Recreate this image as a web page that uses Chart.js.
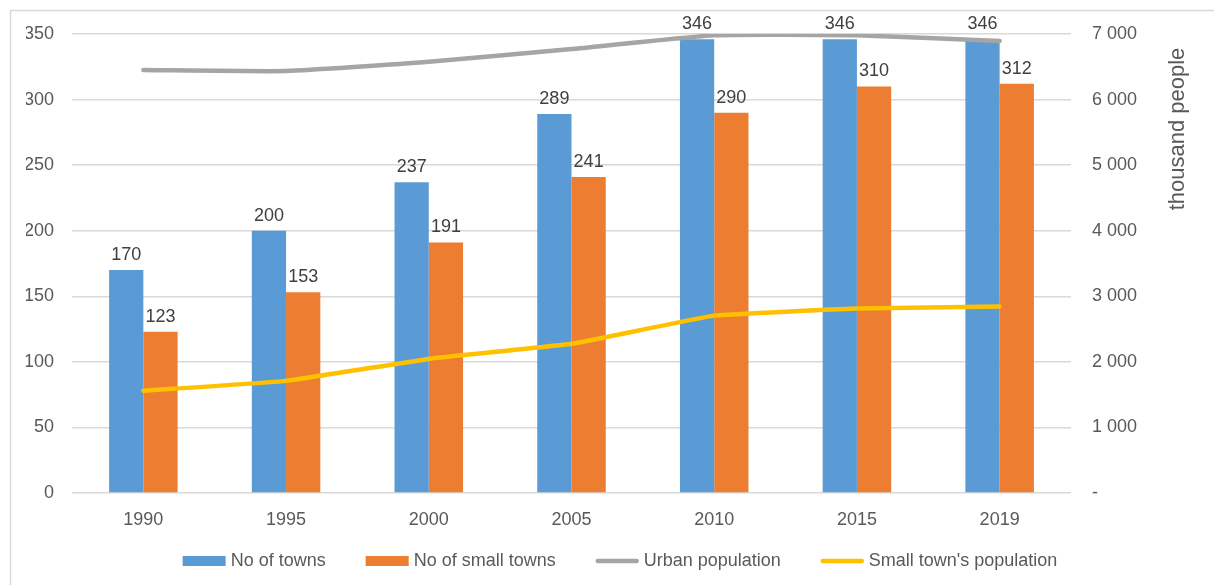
<!DOCTYPE html>
<html>
<head>
<meta charset="utf-8">
<script src="https://cdn.jsdelivr.net/npm/chart.js@4.4.0/dist/chart.umd.min.js"></script>
<style>
  html, body { margin: 0; padding: 0; background: #fff; }
  #wrap { width: 1214px; height: 585px; position: relative; }
</style>
</head>
<body>
<div id="wrap"><canvas id="myChart"></canvas></div>
<script>
const years = ["1990", "1995", "2000", "2005", "2010", "2015", "2019"];
const towns = [170, 200, 237, 289, 346, 346, 346];
const smallTowns = [123, 153, 191, 241, 290, 310, 312];
const urbanPopulation = [6450, 6435, 6575, 6770, 6980, 6980, 6895];
const smallTownPopulation = [1560, 1710, 2045, 2275, 2705, 2812, 2843];

const tickColour = "#595959";
const fontFamily = "'Liberation Sans', 'DejaVu Sans', sans-serif";

// frame, value labels over bars, right axis title, legend
const extras = {
    id: "extras",
    beforeDraw(chart) {
        const ctx = chart.ctx;
        ctx.save();
        ctx.strokeStyle = "#d9d9d9";
        ctx.lineWidth = 1.5;
        ctx.strokeRect(10.5, 10.5, 1300, 700);
        ctx.restore();
    },
    afterDatasetsDraw(chart) {
        const ctx = chart.ctx;
        ctx.save();
        ctx.font = "18px " + fontFamily;
        ctx.fillStyle = "#404040";
        ctx.textAlign = "center";
        ctx.textBaseline = "bottom";
        [0, 1].forEach(i => {
            const meta = chart.getDatasetMeta(i);
            meta.data.forEach((bar, j) => {
                ctx.fillText(chart.data.datasets[i].data[j], bar.x, bar.y - 6);
            });
        });
        ctx.restore();

        ctx.save();
        ctx.translate(1178, 129);
        ctx.rotate(-Math.PI / 2);
        ctx.font = "22px " + fontFamily;
        ctx.fillStyle = tickColour;
        ctx.textAlign = "center";
        ctx.textBaseline = "middle";
        ctx.fillText("thousand people", 0, 0);
        ctx.restore();
    },
    afterDraw(chart) {
        const ctx = chart.ctx;
        const sets = chart.data.datasets;
        const boxW = 43, gap = 5, spacing = 40, y = 561;
        ctx.save();
        ctx.font = "18px " + fontFamily;
        ctx.textBaseline = "middle";
        ctx.textAlign = "left";
        const widths = sets.map(ds => boxW + gap + ctx.measureText(ds.label).width);
        const total = widths.reduce((a, b) => a + b, 0) + spacing * (sets.length - 1);
        let x = 620 - total / 2;
        sets.forEach((ds, i) => {
            if (ds.type === "line") {
                ctx.strokeStyle = ds.borderColor;
                ctx.lineWidth = 4.5;
                ctx.lineCap = "round";
                ctx.beginPath();
                ctx.moveTo(x + 2, y);
                ctx.lineTo(x + boxW - 2, y);
                ctx.stroke();
            } else {
                ctx.fillStyle = ds.backgroundColor;
                ctx.fillRect(x, y - 5, boxW, 10);
            }
            ctx.fillStyle = tickColour;
            ctx.fillText(ds.label, x + boxW + gap, y);
            x += widths[i] + spacing;
        });
        ctx.restore();
    }
};

new Chart(document.getElementById("myChart"), {
    data: {
        labels: years,
        datasets: [
            {
                type: "bar",
                label: "No of towns",
                data: towns,
                backgroundColor: "#5B9BD5",
                yAxisID: "y",
                categoryPercentage: 0.48,
                barPercentage: 1,
                order: 2
            },
            {
                type: "bar",
                label: "No of small towns",
                data: smallTowns,
                backgroundColor: "#ED7D31",
                yAxisID: "y",
                categoryPercentage: 0.48,
                barPercentage: 1,
                order: 2
            },
            {
                type: "line",
                label: "Urban population",
                data: urbanPopulation,
                borderColor: "#A5A5A5",
                backgroundColor: "#A5A5A5",
                borderWidth: 4.5,
                pointRadius: 0,
                tension: 0.15,
                borderCapStyle: "round",
                yAxisID: "y1",
                order: 1
            },
            {
                type: "line",
                label: "Small town's population",
                data: smallTownPopulation,
                borderColor: "#FFC000",
                backgroundColor: "#FFC000",
                borderWidth: 4.5,
                pointRadius: 0,
                tension: 0.1,
                borderCapStyle: "round",
                yAxisID: "y1",
                order: 1
            }
        ]
    },
    options: {
        responsive: true,
        maintainAspectRatio: false,
        animation: false,
        layout: { padding: { top: 34, left: 26, right: 0, bottom: 42 } },
        plugins: {
            tooltip: { enabled: false },
            legend: { display: false }
        },
        scales: {
            x: {
                grid: { display: false },
                border: { display: false },
                ticks: { color: tickColour, font: { family: fontFamily, size: 18 }, padding: 8 },
                afterFit(scale) { scale.height = 50; }
            },
            y: {
                position: "left",
                min: 0,
                max: 350,
                ticks: { stepSize: 50, color: tickColour, font: { family: fontFamily, size: 18 }, padding: 18 },
                grid: { color: "#d9d9d9", lineWidth: 1.5, drawTicks: false },
                border: { display: false },
                afterFit(scale) { scale.width = 46; }
            },
            y1: {
                position: "right",
                min: 0,
                max: 7000,
                ticks: {
                    stepSize: 1000,
                    color: tickColour,
                    font: { family: fontFamily, size: 18 },
                    padding: 13,
                    callback: v => v === 0 ? "-" : String(v).replace(/\B(?=(\d{3})+(?!\d))/g, " ")
                },
                grid: { display: false },
                border: { display: false },
                afterFit(scale) { scale.width = 143; }
            }
        }
    },
    plugins: [extras]
});
</script>
</body>
</html>
